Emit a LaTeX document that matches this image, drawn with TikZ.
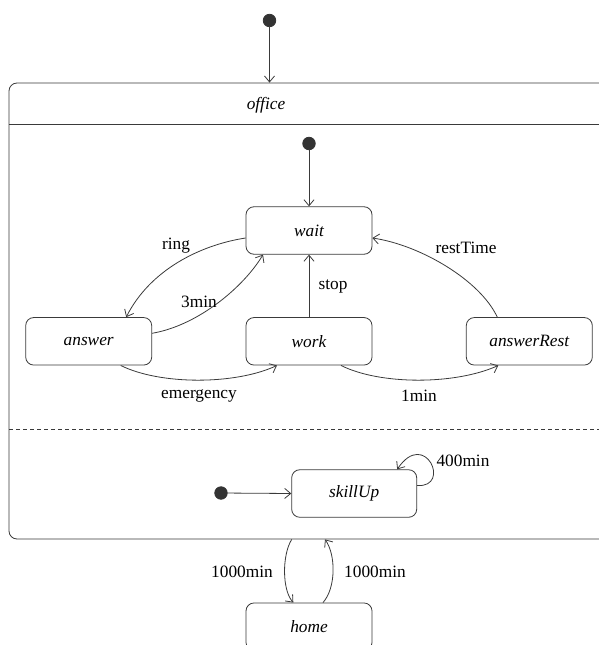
\documentclass[tikz,border=0pt]{standalone}
\usepackage{fontspec}
\setmainfont{Liberation Serif}
\usetikzlibrary{arrows.meta}
\definecolor{linegray}{HTML}{3A3A3A}
\definecolor{dotgray}{HTML}{333333}
\begin{document}
\begin{tikzpicture}[x=1pt,y=-1pt,
  font=\fontsize{17.3}{20}\selectfont,
  line width=0.8pt,
  edge/.style={draw=linegray},
  trans/.style={draw=linegray,-{Straight Barb[length=6pt,width=10pt,line width=0.8pt]}},
  statebox/.style={draw=linegray,rectangle,rounded corners=8pt,minimum width=126pt,minimum height=47.5pt,inner sep=0pt,font=\fontsize{17.3}{20}\selectfont\itshape},
  initdot/.style={circle,fill=dotgray,draw=dotgray,minimum size=12.5pt,inner sep=0pt},
  lbl/.style={inner sep=1pt,text=black}]
\useasboundingbox (0,0) rectangle (599,645);
\clip (0,0) rectangle (599,645);

% composite state with its header and region separator
\node[draw=linegray,rectangle,rounded corners=8pt,minimum width=611pt,minimum height=456pt,inner sep=0pt] (office) at (314.5,311) {};
\draw[edge] (9,124) -- (620,124);
\draw[edge,dash pattern=on 4pt off 3pt] (9,429) -- (620,429);
\node[lbl,font=\fontsize{17.3}{20}\selectfont\itshape] (officeName) at (266,105) {office};

% initial pseudostates
\node[initdot] (dot0) at (269.5,20.5) {};
\node[initdot] (dot1) at (309,143.5) {};
\node[initdot] (dot2) at (221,493) {};

% states
\node[statebox] (wait) at (309,230.5) {wait};
\node[statebox] (answer) at (88.7,341.3) {answer};
\node[statebox] (work) at (309,341.3) {work};
\node[statebox] (answerRest) at (529.3,341.3) {answerRest};
\node[statebox,minimum width=125pt] (skillUp) at (354.2,493.5) {skillUp};
\node[statebox] (home) at (309,626.7) {home};

% transitions
\draw[trans] (dot0) -- (dot0 |- office.north);
\draw[trans] (dot1) -- (wait.north);
\draw[trans] (dot2) -- (skillUp.west);

\draw[trans] ([yshift=-7.5pt]wait.west) .. controls (200,245) and (150,270) .. ([xshift=37.5pt]answer.north);
\draw[trans] ([yshift=8pt]answer.east) .. controls (200,325) and (245,285) .. ([xshift=-46pt]wait.south);
\draw[trans] ([xshift=32pt]answer.south) .. controls (160,385) and (235,385) .. ([xshift=-32pt]work.south);
\draw[trans] ([xshift=32pt]work.south) .. controls (380,385) and (455,385) .. ([xshift=-31pt]answerRest.south);
\draw[trans] (work.north) -- (wait.south);
\draw[trans] ([xshift=-32pt]answerRest.north) .. controls (480,280) and (420,245) .. ([yshift=-7.5pt]wait.east);
\draw[trans] ([yshift=8pt]skillUp.east) .. controls (452,488) and (425,428) .. ([xshift=43pt]skillUp.north);
\draw[trans] ([xshift=-22.8pt]office.south) .. controls (282,555) and (282,590) .. ([xshift=-15.7pt]home.north);
\draw[trans] ([xshift=14pt]home.north) .. controls (336,588) and (336,555) .. ([xshift=10.5pt]office.south);

% transition labels
\node[lbl] (lRing) at (176,246) {ring};
\node[lbl] (l3min) at (199,302) {3min};
\node[lbl] (lEmerg) at (199,396) {emergency};
\node[lbl] (l1min) at (419,396) {1min};
\node[lbl] (lStop) at (333,286) {stop};
\node[lbl] (lRest) at (466,248) {restTime};
\node[lbl] (l400) at (463,461) {400min};
\node[lbl] (l1000a) at (242,572) {1000min};
\node[lbl] (l1000b) at (375,572) {1000min};
\end{tikzpicture}
\end{document}
